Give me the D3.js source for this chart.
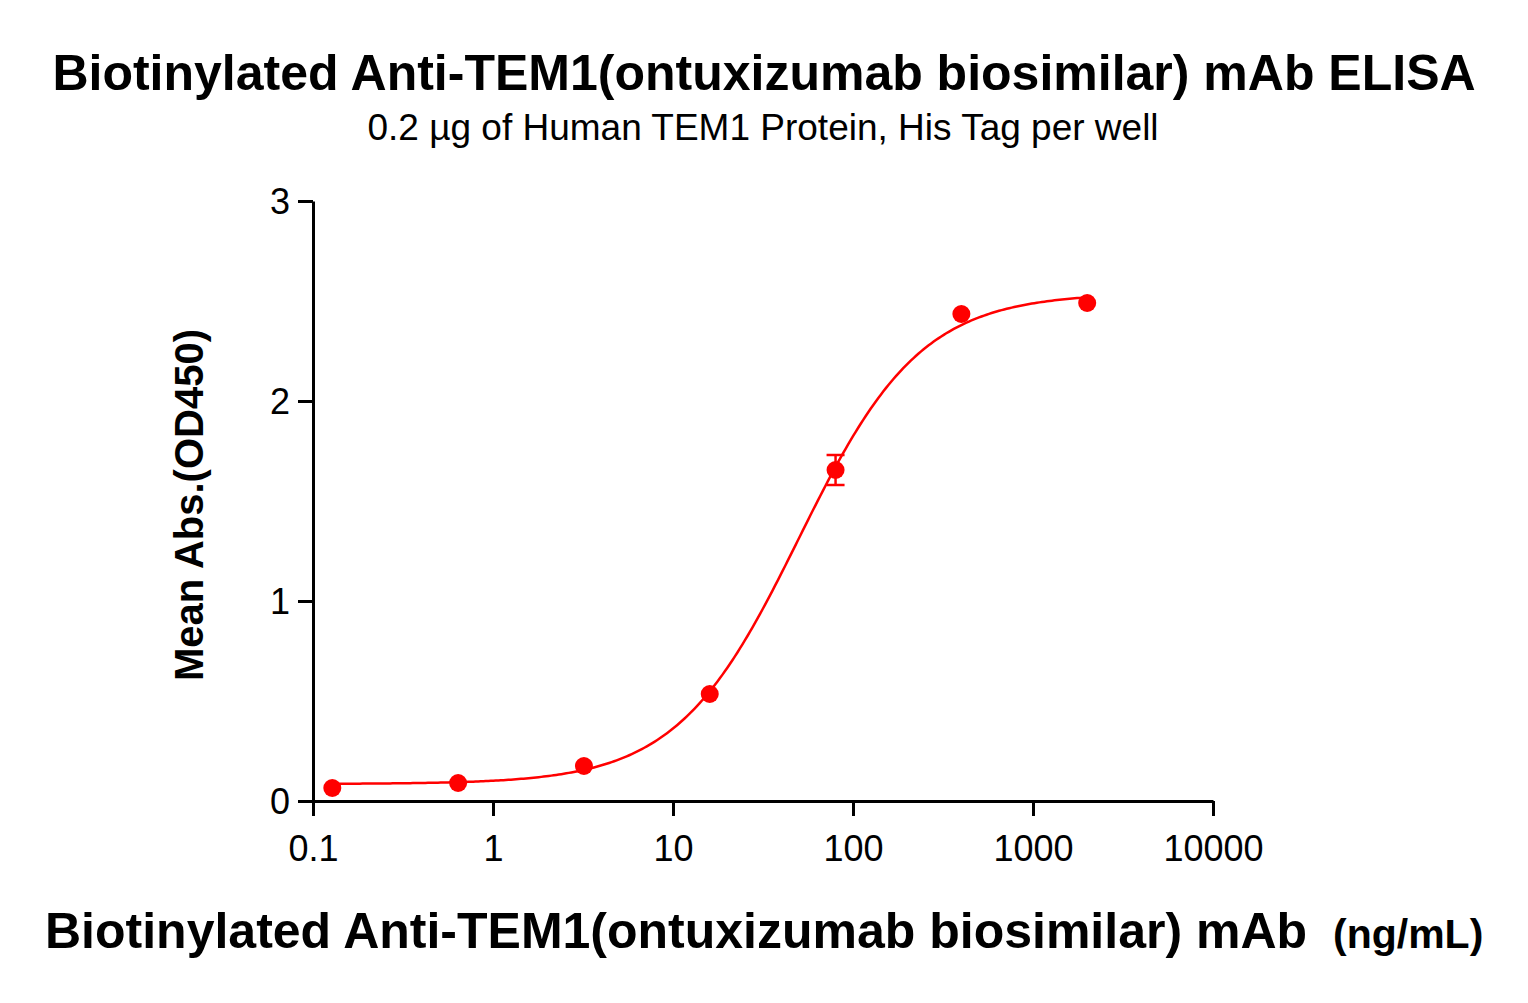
<!DOCTYPE html>
<html>
<head>
<meta charset="utf-8">
<script src="https://cdn.jsdelivr.net/npm/d3@7"></script>
<style>
  body { margin: 0; background: #fff; }
  svg text { font-family: "Liberation Sans", Arial, sans-serif; fill: #000; }
</style>
</head>
<body>
<svg id="chart" width="1528" height="1003"></svg>
<script>
// concentrations (ng/mL) and mean OD450
const conc = [0.128, 0.64, 3.2, 16, 80, 400, 2000];
const meanOD = [0.065, 0.09, 0.175, 0.535, 1.655, 2.435, 2.49];
const sdOD = [0, 0, 0, 0, 0.075, 0, 0];

// 4PL fit shown as the line
const fitBottom = 0.085, fitTop = 2.54, fitEC50 = 50, fitHill = 1.28;

const xTicks = [0.1, 1, 10, 100, 1000, 10000];
const xTickLabels = ['0.1', '1', '10', '100', '1000', '10000'];
const yTicks = [0, 1, 2, 3];

const red = '#ff0000';

const svg = d3.select('#chart');

const x = d3.scaleLog().domain([0.1, 10000]).range([313, 1213]);
const y = d3.scaleLinear().domain([0, 3]).range([801, 201]);

// axes
const xAxis = d3.axisBottom(x)
    .tickValues(xTicks)
    .tickFormat((d, i) => xTickLabels[i])
    .tickSize(15)
    .tickSizeOuter(0)
    .tickPadding(8);

const yAxis = d3.axisLeft(y)
    .tickValues(yTicks)
    .tickFormat(d3.format('d'))
    .tickSize(15)
    .tickSizeOuter(0)
    .tickPadding(8);

const gx = svg.append('g').attr('transform', 'translate(0,801)').call(xAxis);
const gy = svg.append('g').attr('transform', 'translate(313,0)').call(yAxis);

[gx, gy].forEach(g => {
  g.select('.domain').attr('stroke', '#000').attr('stroke-width', 3);
  g.selectAll('.tick line').attr('stroke', '#000').attr('stroke-width', 3);
  g.selectAll('.tick text').style('font-size', '36px').attr('fill', '#000');
});
gx.selectAll('.tick text').attr('dy', '1.02em');
gy.selectAll('.tick text').attr('dy', '0.36em');

// fitted curve
const fit = c => fitBottom + (fitTop - fitBottom) / (1 + Math.pow(fitEC50 / c, fitHill));
const lx = d3.scaleLinear().domain([0, 300])
    .range([Math.log10(conc[0]), Math.log10(conc[conc.length - 1])]);
const curve = d3.range(301).map(i => Math.pow(10, lx(i)));

svg.append('path')
    .datum(curve)
    .attr('fill', 'none')
    .attr('stroke', red)
    .attr('stroke-width', 2.5)
    .attr('d', d3.line().x(d => x(d)).y(d => y(fit(d))));

// error bars
const pts = conc.map((c, i) => ({c: c, m: meanOD[i], sd: sdOD[i]}));
const eb = svg.append('g').attr('stroke', red).attr('stroke-width', 2.5);
pts.filter(d => d.sd > 0).forEach(d => {
  eb.append('line')
      .attr('x1', x(d.c)).attr('x2', x(d.c))
      .attr('y1', y(d.m - d.sd)).attr('y2', y(d.m + d.sd));
  [d.m - d.sd, d.m + d.sd].forEach(v => {
    eb.append('line')
        .attr('x1', x(d.c) - 9).attr('x2', x(d.c) + 9)
        .attr('y1', y(v)).attr('y2', y(v));
  });
});

// points
svg.append('g').selectAll('circle')
  .data(pts)
  .join('circle')
    .attr('cx', d => x(d.c))
    .attr('cy', d => y(d.m))
    .attr('r', 9)
    .attr('fill', red);

// titles
svg.append('text')
    .attr('x', 764).attr('y', 90)
    .attr('text-anchor', 'middle')
    .style('font-size', '50px').style('font-weight', 'bold')
    .text('Biotinylated Anti-TEM1(ontuxizumab biosimilar) mAb ELISA');

svg.append('text')
    .attr('x', 763).attr('y', 140)
    .attr('text-anchor', 'middle')
    .style('font-size', '37px')
    .text('0.2 \u00b5g of Human TEM1 Protein, His Tag per well');

svg.append('text')
    .attr('transform', 'translate(203,505) rotate(-90)')
    .attr('text-anchor', 'middle')
    .style('font-size', '40px').style('font-weight', 'bold')
    .text('Mean Abs.(OD450)');

const xl = svg.append('text')
    .attr('x', 45).attr('y', 948)
    .style('font-weight', 'bold');
xl.append('tspan').style('font-size', '50px')
    .text('Biotinylated Anti-TEM1(ontuxizumab biosimilar) mAb');
xl.append('tspan').attr('x', 1333).style('font-size', '41px')
    .text('(ng/mL)');
</script>
</body>
</html>
